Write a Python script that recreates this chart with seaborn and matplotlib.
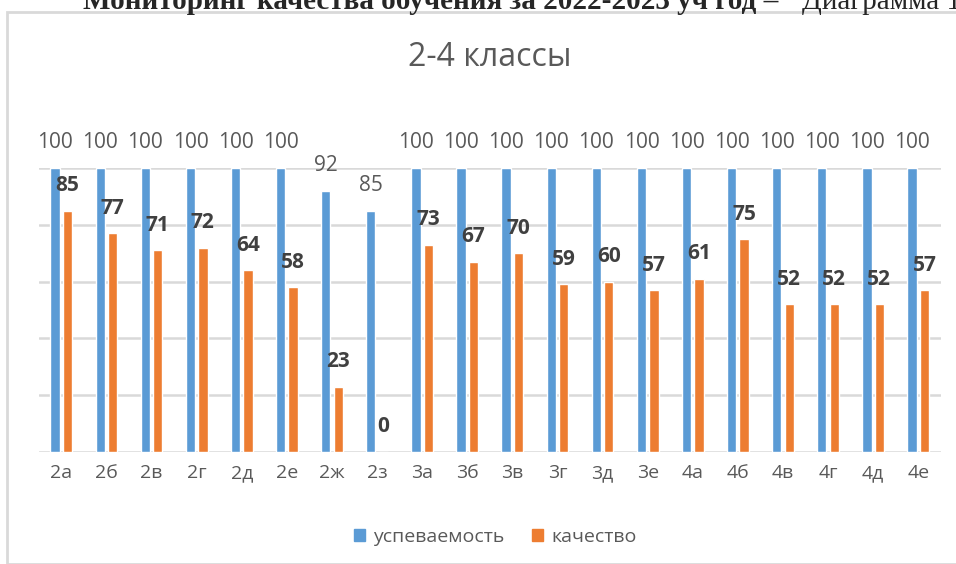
import numpy as np
import pandas as pd
import matplotlib.pyplot as plt
import matplotlib.patches as mpatches
import seaborn as sns

###################################################################################
# Data

classes = ['2а', '2б', '2в', '2г', '2д', '2е', '2ж', '2з', '3а', '3б',
           '3в', '3г', '3д', '3е', '4а', '4б', '4в', '4г', '4д', '4е']
uspev = [100, 100, 100, 100, 100, 100, 92, 85, 100, 100,
         100, 100, 100, 100, 100, 100, 100, 100, 100, 100]
kach = [85, 77, 71, 72, 64, 58, 23, 0, 73, 67,
        70, 59, 60, 57, 61, 75, 52, 52, 52, 57]
series_names = ['успеваемость', 'качество']

df = pd.DataFrame({
    'класс': classes * 2,
    'значение': uspev + kach,
    'ряд': [series_names[0]] * len(classes) + [series_names[1]] * len(classes),
})

###################################################################################
# Plot

sns.set_style('white')
plt.rcParams['font.family'] = ['Open Sans', 'DejaVu Sans']

fig = plt.figure(figsize=(9.56, 5.64), dpi=100)
ax = fig.add_axes([38.8 / 956, 1 - 452 / 564, (940.8 - 38.8) / 956, (452 - 168) / 564])

colors = ['#5B9BD5', '#ED7D31']
sns.barplot(data=df, x='класс', y='значение', hue='ряд', palette=colors,
            saturation=1, width=0.55, gap=0.25, ax=ax, legend=False)

ax.set_ylim(0, 100)
ax.set_xlim(-0.5, len(classes) - 0.5)
ax.set_yticks(np.arange(0, 101, 20))
ax.yaxis.grid(True, color='#d9d9d9', linewidth=1.8)
ax.set_axisbelow(True)
ax.set_yticklabels([])
ax.tick_params(axis='y', length=0)
ax.tick_params(axis='x', length=0, labelsize=14, labelcolor='#595959', pad=9)
ax.set_xlabel('')
ax.set_ylabel('')
for s in ax.spines.values():
    s.set_visible(False)

# value labels
for cont, bold, col in zip(ax.containers, ['normal', 'bold'], ['#595959', '#404040']):
    for bar in cont:
        h = bar.get_height()
        ax.annotate(f'{h:.0f}', (bar.get_x() + bar.get_width() / 2, h),
                    xytext=(0, 18), textcoords='offset points',
                    ha='center', va='center', fontsize=15, fontweight=bold,
                    color=col, annotation_clip=False)

# title
fig.text(490 / 956, 1 - 58 / 564, '2-4 классы', ha='center', va='center',
         fontsize=23, color='#595959')

# legend
handles = [mpatches.Patch(color=c, label=n) for c, n in zip(colors, series_names)]
fig.legend(handles=handles, loc='center', bbox_to_anchor=(495 / 956, 1 - 537 / 564),
           ncol=2, frameon=False, fontsize=14, handlelength=0.6, handleheight=0.6,
           handletextpad=0.4, columnspacing=1.4, labelcolor='#595959')

# chart frame
fig.patches.append(mpatches.Rectangle((7 / 956, 0), 1.1, 1 - 12 / 564,
                                      transform=fig.transFigure, fill=False,
                                      edgecolor='#d9d9d9', linewidth=2))

# document heading, cut off by the top edge as in the source page
fig.text(83 / 956, 1 - 9 / 564, 'Мониторинг качества обучения за 2022-2023 уч год –',
         ha='left', va='baseline', fontsize=21, fontweight='bold',
         family=['Liberation Serif'])
fig.text(802 / 956, 1 - 9 / 564, 'Диаграмма 1', ha='left', va='baseline',
         fontsize=21, family=['Liberation Serif'])

fig.savefig('out.png', dpi=100)
